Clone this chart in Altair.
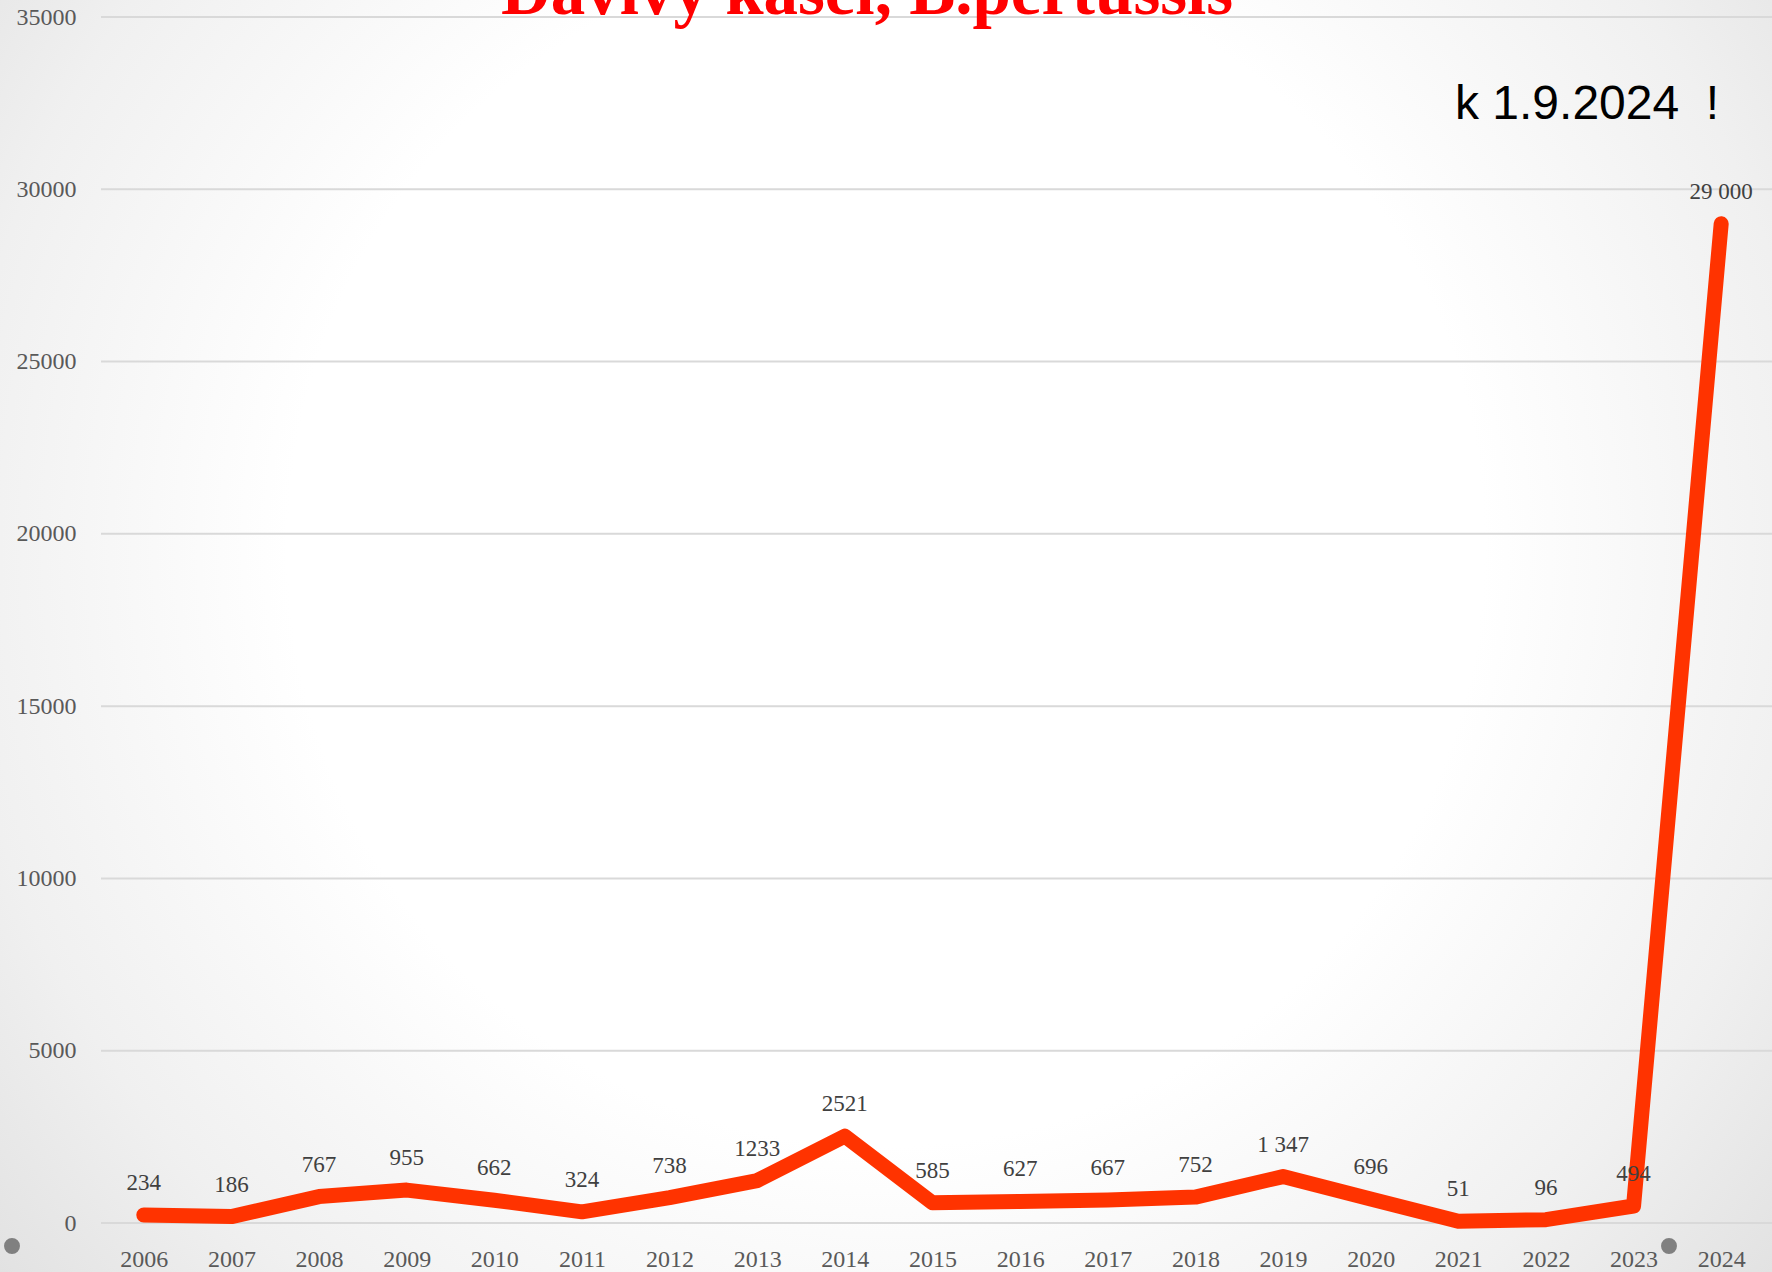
import altair as alt
import pandas as pd

# ---- data ----
years = [str(y) for y in range(2006, 2025)]
cases = [234, 186, 767, 955, 662, 324, 738, 1233, 2521, 585, 627, 667, 752,
         1347, 696, 51, 96, 494, 29000]
labels = ["234", "186", "767", "955", "662", "324", "738", "1233", "2521",
          "585", "627", "667", "752", "1 347", "696", "51", "96", "494", "29 000"]
y_ticks = [0, 5000, 10000, 15000, 20000, 25000, 30000, 35000]
title_text = "Dávivý kašel, B.pertussis"
note_text = "k 1.9.2024\u00a0\u00a0!"

df = pd.DataFrame({"year": years, "cases": cases, "label": labels})
grid_df = pd.DataFrame({"tick": y_ticks})
one = pd.DataFrame({"k": [0]})

W, H = 1665, 1206
PAD = {"left": 100, "top": 17, "right": 7, "bottom": 49}

SERIF = "Liberation Serif"
yscale = alt.Scale(domain=[0, 35000], nice=False, zero=True)

grad = alt.RadialGradient(
    gradient="radial",
    stops=[
        alt.GradientStop(offset=0, color="#ffffff"),
        alt.GradientStop(offset=0.45, color="#ffffff"),
        alt.GradientStop(offset=0.7, color="#f0f0f0"),
        alt.GradientStop(offset=1, color="#d6d6d6"),
    ],
    x1=0.5, y1=0.45, r1=0, x2=0.5, y2=0.45, r2=0.75,
)

bg = alt.Chart(one).mark_rect(fill=grad, strokeWidth=0).encode(
    x=alt.value(-PAD["left"]), x2=alt.value(W + PAD["right"]),
    y=alt.value(-PAD["top"]), y2=alt.value(H + PAD["bottom"]),
)

grid = alt.Chart(grid_df).mark_rule(color="#d9d9d9", strokeWidth=2).encode(
    y=alt.Y("tick:Q", scale=yscale),
    x=alt.value(1), x2=alt.value(W + PAD["right"]),
)

xenc = alt.X("year:O", sort=years, axis=alt.Axis(
    title=None, labelAngle=0, domain=False, ticks=False, tickSize=0,
    labelPadding=24, labelFont=SERIF, labelFontSize=24, labelColor="#595959",
    grid=False, zindex=1))
yenc = alt.Y("cases:Q", scale=yscale, axis=alt.Axis(
    title=None, values=y_ticks, format="d", domain=False, ticks=False,
    tickSize=0, labelPadding=24, labelFont=SERIF, labelFontSize=24,
    labelColor="#595959", grid=False, zindex=1, labelFlush=False))

line = alt.Chart(df).mark_line(color="#ff3300", strokeWidth=15,
                               strokeCap="round", strokeJoin="round").encode(
    x=xenc, y=yenc)

txt = alt.Chart(df).mark_text(dy=-25, baseline="alphabetic", align="center",
                              font=SERIF, fontSize=23, color="#404040").encode(
    x=alt.X("year:O", sort=years), y=alt.Y("cases:Q", scale=yscale),
    text="label:N")

title = alt.Chart(one).mark_text(text=title_text, font=SERIF, fontWeight="bold",
                                 fontSize=69, color="#ff0000", align="center",
                                 baseline="alphabetic").encode(
    x=alt.value(767), y=alt.value(-3))

note = alt.Chart(one).mark_text(text=note_text, font="Liberation Sans",
                                fontSize=48, color="#000000", align="left",
                                baseline="alphabetic").encode(
    x=alt.value(1355), y=alt.value(102))

dot1 = alt.Chart(one).mark_circle(color="#808080", opacity=1, size=254).encode(
    x=alt.value(-88), y=alt.value(1229))
dot2 = alt.Chart(one).mark_circle(color="#808080", opacity=1, size=254).encode(
    x=alt.value(1569), y=alt.value(1229))

chart = alt.layer(bg, grid, line, txt, title, note, dot1, dot2).properties(
    width=W, height=H, padding=PAD, background="#ffffff",
    autosize=alt.AutoSizeParams(type="none"),
).configure_view(strokeWidth=0)

chart.save("out.html", embed_options={"renderer": "svg", "actions": False})
